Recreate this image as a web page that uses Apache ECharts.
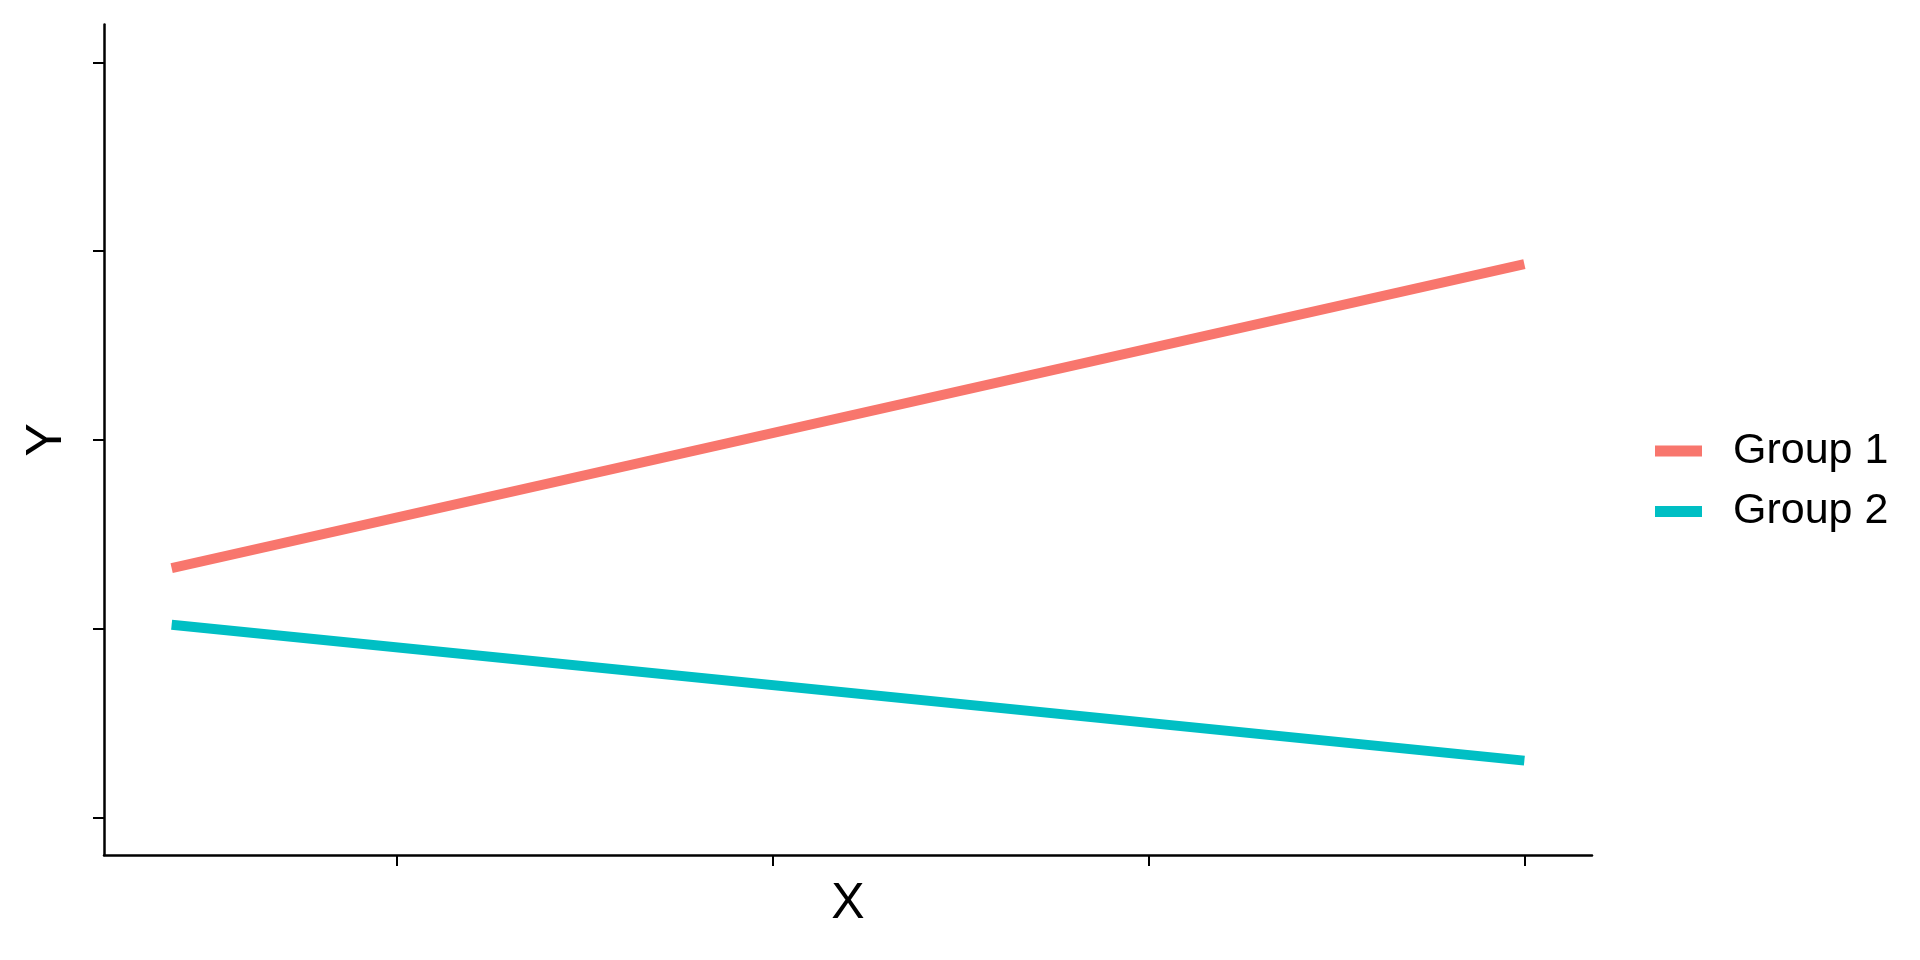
<!DOCTYPE html>
<html>
<head>
<meta charset="utf-8">
<script src="https://cdn.jsdelivr.net/npm/echarts@6/dist/echarts.min.js"></script>
<style>
html,body{margin:0;padding:0;background:#fff;}
#chart{width:1920px;height:960px;}
</style>
</head>
<body>
<div id="chart"></div>
<script>
const xValues = [10, 100];
const group1 = [1.32, 2.93];
const group2 = [1.02, 0.30];
const seriesNames = ['Group 1', 'Group 2'];
const xTicks = [25, 50, 75, 100];
const yTicks = [0, 1, 2, 3, 4];

const FONT = 'Liberation Sans';
const chart = echarts.init(document.getElementById('chart'), null, {renderer: 'canvas'});

function pairs(xs, ys) { return xs.map((x, i) => [x, ys[i]]); }

const axisLine = {show: true, onZero: false, lineStyle: {color: '#000', width: 2.5}};
const axisTickStyle = {lineStyle: {color: '#000', width: 2}, length: 11};

chart.setOption({
  animation: false,
  backgroundColor: '#fff',
  grid: {left: 104, right: 328, top: 24.5, bottom: 105, containLabel: false},
  xAxis: {
    type: 'value', min: 5.5, max: 104.5,
    name: 'X', nameLocation: 'middle', nameGap: 24,
    nameTextStyle: {fontFamily: FONT, fontSize: 50, color: '#000'},
    axisLine: axisLine,
    axisTick: Object.assign({show: true, customValues: xTicks}, axisTickStyle),
    axisLabel: {show: false, customValues: xTicks},
    splitLine: {show: false}
  },
  yAxis: {
    type: 'value', min: -0.2, max: 4.2,
    name: 'Y', nameLocation: 'middle', nameGap: 32,
    nameTextStyle: {fontFamily: FONT, fontSize: 50, color: '#000'},
    axisLine: axisLine,
    axisTick: Object.assign({show: true, customValues: yTicks}, axisTickStyle),
    axisLabel: {show: false, customValues: yTicks},
    splitLine: {show: false}
  },
  legend: {
    orient: 'vertical', left: 1650, top: 424.5,
    icon: 'rect', itemWidth: 47, itemHeight: 11, itemGap: 17.5,
    textStyle: {fontFamily: FONT, fontSize: 43, color: '#000', lineHeight: 42, padding: [0, 0, 0, 26]},
    data: seriesNames
  },
  series: [
    {name: seriesNames[0], type: 'line', data: pairs(xValues, group1), showSymbol: false, symbol: 'none',
     color: '#F8766D', lineStyle: {width: 10, color: '#F8766D', cap: 'butt'}},
    {name: seriesNames[1], type: 'line', data: pairs(xValues, group2), showSymbol: false, symbol: 'none',
     color: '#00BFC4', lineStyle: {width: 10, color: '#00BFC4', cap: 'butt'}}
  ]
});
</script>
</body>
</html>
